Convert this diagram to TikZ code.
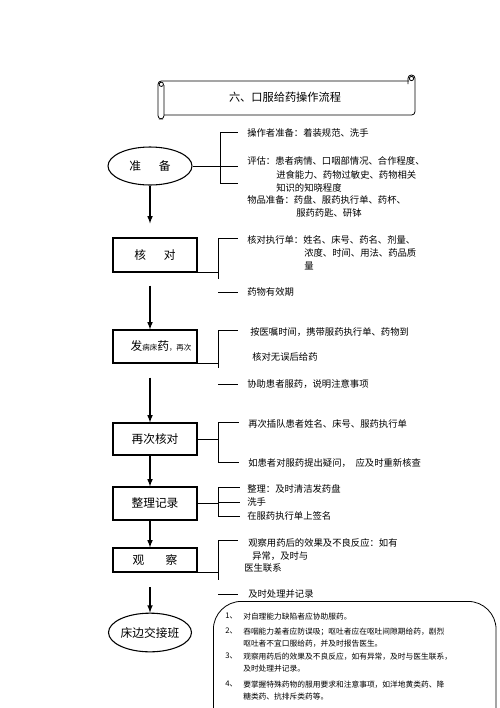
\documentclass[tikz,border=0pt]{standalone}
\usepackage{fontspec}
\setmainfont{Noto Sans CJK SC}
\usepackage{tikz}
\usetikzlibrary{shapes.geometric}
\usetikzlibrary{calc}

\begin{document}
\begin{tikzpicture}[x=0.75pt, y=-0.75pt,
		every text node part/.style={align=left},
		block/.style={rectangle, draw=black, line width=0.8pt, minimum width=63pt, inner sep=0pt, font=\fontsize{8.8}{10}\selectfont},
		oval/.style={ellipse, draw=black, line width=0.8pt, inner sep=0pt, font=\fontsize{8.8}{10}\selectfont},
		str/.style={anchor=west, inner sep=0pt, font=\fontsize{7}{9}\selectfont},
		note/.style={anchor=north west, inner sep=0pt, font=\fontsize{5.8}{9}\selectfont},
		arrow/.style={-latex, line width=0.9pt},
		brace/.style={line width=0.6pt},
		small/.style={font=\fontsize{5.6}{6}\selectfont}]
		
		\useasboundingbox (0,0) rectangle (500,708);
		
		% title scroll
		\draw[brace, rounded corners=2.5pt] (164,85) -- (164,119) -- (158,119) -- (158,81) -- (165,81) -- (409,81);
		\draw[brace] (161.3,84.3) circle[radius=1.6pt];
		\draw[brace, rounded corners=2.5pt] (408,84) -- (408,75) -- (415,75) -- (415,115) -- (164,115);
		\draw[brace] (411.5,78.5) circle[radius=1.6pt];
		\node[inner sep=0pt, font=\fontsize{8.4}{10}\selectfont] (title) at (285,97) {六、口服给药操作流程};
		
		% steps
		\node[oval, minimum width=63pt, minimum height=28.5pt] (zhunbei) at (150,166) {准\hspace{1.5em}备};
		\node[block, minimum height=25.5pt] (hedui) at (155,255) {核\hspace{1.5em}对};
		\node[block, minimum height=24.75pt] (fayao) at (155,346.5) {\hspace{9pt}发{\fontsize{5.6}{6}\selectfont 病床}药{\fontsize{5.6}{6}\selectfont ，再次}};
		\node[block, minimum height=24pt] (zaici) at (155,439) {再次核对};
		\node[block, minimum height=24.75pt] (zhengli) at (155,503.5) {整理记录};
		\node[block, minimum height=18pt] (guancha) at (155,560) {观\hspace{1.8em}察};
		\node[oval, minimum width=56pt, minimum height=29pt] (jiaoban) at (150,632.5) {床边交接班};
		
		\draw[arrow, shorten >=10.5pt] (zhunbei.south) -- (zhunbei.south |- hedui.north);
		\draw[arrow, shorten <=9.75pt] (zhunbei.south |- hedui.south) -- (zhunbei.south |- fayao.north);
		\draw[arrow, shorten <=10.5pt] (zhunbei.south |- fayao.south) -- (zhunbei.south |- zaici.north);
		\draw[arrow] (zhunbei.south |- zaici.south) -- (zhunbei.south |- zhengli.north);
		\draw[arrow] (zhunbei.south |- zhengli.south) -- (zhunbei.south |- guancha.north);
		\draw[arrow, shorten <=11pt] (zhunbei.south |- guancha.south) -- (jiaoban.north);
		
		% texts
		\node[str] (t1) at (247,133) {操作者准备：着装规范、洗手};
		\node[str] (t2) at (247,161) {评估：患者病情、口咽部情况、合作程度、};
		\node[str] (t2b) at (276,175) {进食能力、药物过敏史、药物相关};
		\node[str] (t2c) at (276,188) {知识的知晓程度};
		\node[str] (t3) at (247,200) {物品准备：药盘、服药执行单、药杯、};
		\node[str] (t3b) at (296,213) {服药药匙、研钵};
		
		\node[str] (t4) at (247,240) {核对执行单：姓名、床号、药名、剂量、};
		\node[str] (t4b) at (304,253) {浓度、时间、用法、药品质};
		\node[str] (t4c) at (304,266) {量};
		\node[str] (t5) at (247,292) {药物有效期};
		
		\node[str] (t6) at (250,332) {按医嘱时间，携带服药执行单、药物到};
		\node[str] (t6b) at (252,357) {核对无误后给药};
		\node[str] (t7) at (247,384) {协助患者服药，说明注意事项};
		
		\node[str] (t8) at (248,424) {再次插队患者姓名、床号、服药执行单};
		\node[str] (t9) at (248,463) {如患者对服药提出疑问，\hspace{0.5em}应及时重新核查};
		
		\node[str] (t10) at (247,489) {整理：及时清洁发药盘};
		\node[str] (t11) at (247,502) {洗手};
		\node[str] (t12) at (247,516) {在服药执行单上签名};
		
		\node[str] (t13) at (248,543) {观察用药后的效果及不良反应：如有};
		\node[str] (t13b) at (252,556) {异常，及时与};
		\node[str] (t13c) at (244,568) {医生联系};
		\node[str] (t14) at (248,594) {及时处理并记录};
		
		% brackets
		\coordinate (p1) at (220,132);
		\coordinate (p2) at (220,166);
		\coordinate (p3) at (220,183);
		\draw[brace] (p1) -- (p3);
		\draw[brace] (zhunbei.east) -- (p2);
		\draw[brace, shorten >=6.5pt] (p1) -- (p1 -| t1.west);
		\draw[brace, shorten >=6.5pt] (p2) -- (p2 -| t2.west);
		\draw[brace, shorten >=6.5pt] (p3) -- (p3 -| t2.west);
		
		\coordinate (h1) at (218,238);
		\coordinate (h2) at (218,279);
		\draw[brace] (hedui.south east) -- (hedui.south east -| h1);
		\draw[brace] (h1) -- (h2);
		\draw[brace, shorten >=6.5pt] (h1) -- (h1 -| t4.west);
		\draw[brace, shorten >=6.5pt] (t5.west -| h1) -- (t5.west);
		
		\coordinate (f1) at (218,330);
		\coordinate (f2) at (218,368);
		\draw[brace] (fayao.south east) -- (fayao.south east -| f1);
		\draw[brace] (f1) -- (f2);
		\draw[brace, shorten >=9pt] (f1) -- (f1 -| t6.west);
		\draw[brace, shorten >=6.5pt] (t7.west -| f1) -- (t7.west);
		
		\coordinate (z1) at (218,422);
		\coordinate (z2) at (218,462);
		\draw[brace] (zaici.east) -- (zaici.east -| z1);
		\draw[brace] (z1) -- (z2);
		\draw[brace, shorten >=7pt] (z1) -- (z1 -| t8.west);
		\draw[brace, shorten >=7pt] (z2) -- (z2 -| t9.west);
		
		\coordinate (g1) at (218,487);
		\coordinate (g3) at (218,516);
		\draw[brace] (zhengli.east) -- (zhengli.east -| g1);
		\draw[brace] (g1) -- (g3);
		\draw[brace, shorten >=5.25pt] (g1) -- (g1 -| t10.west);
		\draw[brace, shorten >=5.25pt] (t11.west -| g1) -- (t11.west);
		\draw[brace, shorten >=5.25pt] (g3) -- (g3 -| t12.west);
		
		\coordinate (c1) at (218,540);
		\coordinate (c2) at (218,580);
		\draw[brace] (guancha.south east) -- (guancha.south east -| c1);
		\draw[brace] (c1) -- (c2);
		\draw[brace, shorten >=7.5pt] (c1) -- (c1 -| t13.west);
		\draw[brace, shorten >=7.5pt] (t14.west -| c1) -- (t14.west);
		
		% notes
		\node[draw=black, line width=0.6pt, rounded corners=21pt, anchor=north west, minimum width=212pt, minimum height=120pt, inner sep=0pt] (notebox) at (213,601) {};
		\node[note] (n1) at (225,613) {1、};
		\node[note] (m1) at (243,613) {对自理能力缺陷者应协助服药。};
		\node[note] (n2) at (225,628) {2、};
		\node[note] (m2) at (243,628) {吞咽能力差者应防误吸；呕吐者应在呕吐间隙期给药，剧烈\\呕吐者不宜口服给药，并及时报告医生。};
		\node[note] (n3) at (225,653) {3、};
		\node[note] (m3) at (243,653) {观察用药后的效果及不良反应，如有异常，及时与医生联系，\\及时处理并记录。};
		\node[note] (n4) at (225,681) {4、};
		\node[note] (m4) at (243,681) {要掌握特殊药物的服用要求和注意事项，如洋地黄类药、降\\糖类药、抗排斥类药等。};
		
	\end{tikzpicture}
\end{document}
